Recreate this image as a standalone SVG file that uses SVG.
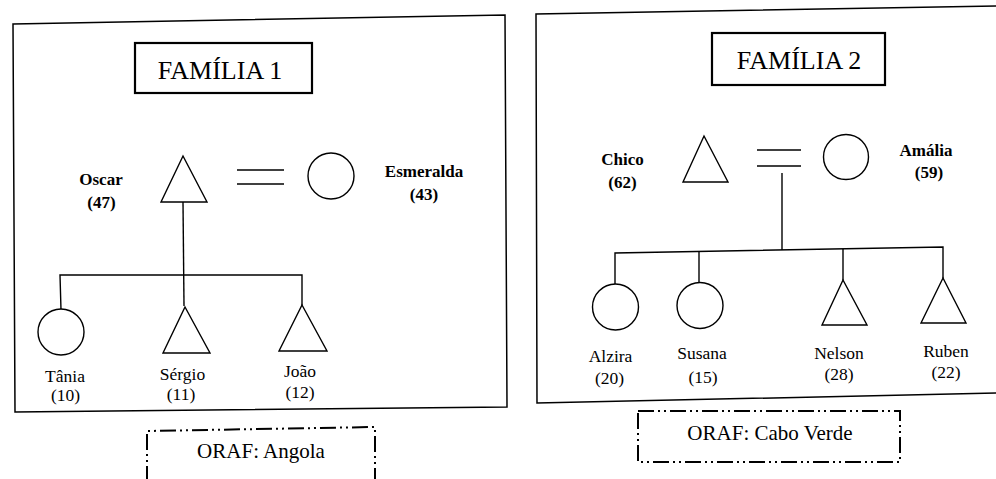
<svg xmlns="http://www.w3.org/2000/svg" width="996" height="479" viewBox="0 0 996 479">
<style>
.ln{fill:none;stroke:#000;stroke-width:1.4}
.sym{fill:#fff;stroke:#000;stroke-width:1.4}
.frame{fill:none;stroke:#000;stroke-width:1.5}
.tbox{fill:#fff;stroke:#000;stroke-width:2.2}
.dash{fill:none;stroke:#000;stroke-width:2;stroke-dasharray:16 4 2 4 2 4}
.title{font-size:26px}
.p{font-size:17px;font-weight:bold}
.c{font-size:17.5px}
.o{font-size:21px}
</style>
<rect width="996" height="479" fill="#fff"/>
<g font-family="Liberation Serif, Times New Roman, DejaVu Serif, serif" text-anchor="middle" fill="#000">
<g id="panel1">
<polygon class="frame" points="13,24 505,15 507,407 15,412"/>
<g id="title1"><rect class="tbox" x="135" y="43" width="177" height="50"/><text class="title" x="220" y="79">FAMÍLIA 1</text></g>
</g>
<g id="panel2">
<polyline class="frame" points="1000,6 536,14 537,403 1000,393"/>
<g id="title2"><rect class="tbox" x="712" y="33" width="173" height="52"/><text class="title" x="799" y="69">FAMÍLIA 2</text></g>
</g>
<g id="connectors">
<line class="ln" x1="237" y1="170" x2="284" y2="170"/>
<line class="ln" x1="237" y1="184" x2="284" y2="184"/>
<line class="ln" x1="183" y1="202" x2="184" y2="306"/>
<polyline class="ln" points="61,310 60,275 302,275 302,305"/>
<line class="ln" x1="757" y1="150" x2="801" y2="150"/>
<line class="ln" x1="757" y1="166" x2="801" y2="166"/>
<line class="ln" x1="782" y1="173" x2="782" y2="250"/>
<polyline class="ln" points="615,284 615,253 943,247 943,278"/>
<line class="ln" x1="699" y1="252" x2="699" y2="282"/>
<line class="ln" x1="843" y1="249" x2="843" y2="280"/>
</g>
<g id="oscar"><polygon class="sym" points="183,156 207,202 161,202"/><text class="p" x="101" y="185">Oscar</text><text class="p" x="101.5" y="208">(47)</text></g>
<g id="esmeralda"><circle class="sym" cx="331" cy="176" r="23"/><text class="p" x="424" y="177">Esmeralda</text><text class="p" x="424" y="200">(43)</text></g>
<g id="tania"><circle class="sym" cx="61" cy="332" r="23"/><text class="c" x="65" y="382">Tânia</text><text class="c" x="65.5" y="401">(10)</text></g>
<g id="sergio"><polygon class="sym" points="185,307 210,353 163,353"/><text class="c" x="182.5" y="380">Sérgio</text><text class="c" x="181" y="400">(11)</text></g>
<g id="joao"><polygon class="sym" points="302,305 327,351 279,351"/><text class="c" x="300" y="377">João</text><text class="c" x="300" y="398">(12)</text></g>
<g id="chico"><polygon class="sym" points="704,136 728,182 683,182"/><text class="p" x="622.5" y="165">Chico</text><text class="p" x="622.5" y="188">(62)</text></g>
<g id="amalia"><circle class="sym" cx="846" cy="157" r="22.5"/><text class="p" x="926" y="156">Amália</text><text class="p" x="929" y="178">(59)</text></g>
<g id="alzira"><circle class="sym" cx="615.5" cy="307" r="23"/><text class="c" x="610.5" y="362">Alzira</text><text class="c" x="609.5" y="384">(20)</text></g>
<g id="susana"><circle class="sym" cx="700" cy="305.5" r="23"/><text class="c" x="702" y="359">Susana</text><text class="c" x="703" y="383">(15)</text></g>
<g id="nelson"><polygon class="sym" points="843,280 867,325 822,325"/><text class="c" x="839" y="359">Nelson</text><text class="c" x="839" y="380">(28)</text></g>
<g id="ruben"><polygon class="sym" points="943,278 966,323 921,323"/><text class="c" x="946" y="357">Ruben</text><text class="c" x="946" y="378">(22)</text></g>
<g id="oraf1"><polyline class="dash" points="147,482 147,431 375,427 375,482"/><text class="o" x="261" y="458">ORAF: Angola</text></g>
<g id="oraf2"><rect class="dash" x="638" y="411" width="262" height="51"/><text class="o" x="770" y="440">ORAF: Cabo Verde</text></g>
</g>
</svg>
